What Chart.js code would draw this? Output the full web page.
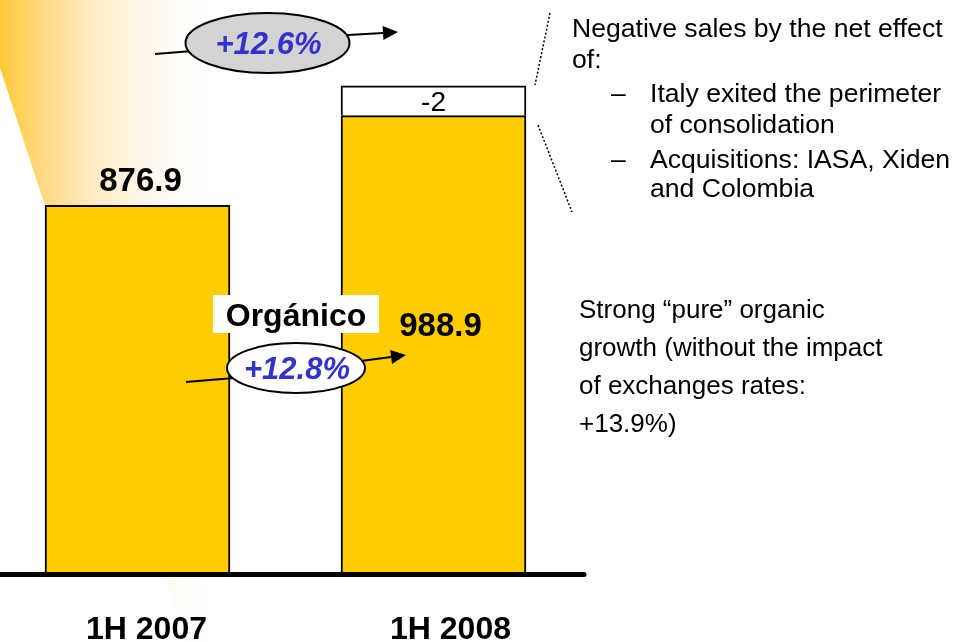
<!DOCTYPE html>
<html><head><meta charset="utf-8">
<script src="https://cdn.jsdelivr.net/npm/chart.js@4"></script>
<style>
html,body{margin:0;padding:0;background:#fff;}
#wrap{position:relative;width:953px;height:642px;overflow:hidden;background:#fff;}
canvas{position:absolute;left:0;top:0;}
.t{position:absolute;font-family:"Liberation Sans",Arial,sans-serif;font-size:26px;line-height:30px;color:#000;white-space:nowrap;}
.p1{font-size:26.6px;}
</style></head><body>
<div id="wrap">
<canvas id="c" width="953" height="642"></canvas>
<div class="t p1" style="left:572px;top:13px">Negative sales by the net effect</div>
<div class="t p1" style="left:572px;top:44px">of:</div>
<div class="t p1" style="left:611px;top:78px">–</div>
<div class="t p1" style="left:650px;top:78px">Italy exited the perimeter</div>
<div class="t p1" style="left:650px;top:109px">of consolidation</div>
<div class="t p1" style="left:611px;top:144px">–</div>
<div class="t p1" style="left:650px;top:144px">Acquisitions: IASA, Xiden</div>
<div class="t p1" style="left:650px;top:173px">and Colombia</div>
<div class="t" style="left:579px;top:294px">Strong “pure” organic</div>
<div class="t" style="left:579px;top:332px">growth (without the impact</div>
<div class="t" style="left:579px;top:370px">of exchanges rates:</div>
<div class="t" style="left:579px;top:408px">+13.9%)</div>
</div>
<script>
// ---- data ----
const categories = ['1H 2007', '1H 2008'];
const organicSales = [876.9, 988.9];
const perimeterBlock = [null, 37];      // drawn block on top of 1H 2008 (labelled -2)
const perimeterLabel = '-2';
const growthTotal = '+12.6%';
const growthOrganic = '+12.8%';
const organicTitle = 'Orgánico';

const FONT = '"Liberation Sans", Arial, sans-serif';

function arrowLine(ctx, x1, y1, x2, y2) {
  const ang = Math.atan2(y2 - y1, x2 - x1), L = 15, W = 7;
  const bx = x2 - L * Math.cos(ang), by = y2 - L * Math.sin(ang);
  ctx.beginPath(); ctx.moveTo(x1, y1); ctx.lineTo(bx, by); ctx.stroke();
  ctx.beginPath();
  ctx.moveTo(x2, y2);
  ctx.lineTo(bx + W * Math.sin(ang), by - W * Math.cos(ang));
  ctx.lineTo(bx - W * Math.sin(ang), by + W * Math.cos(ang));
  ctx.closePath(); ctx.fill();
}

function badge(ctx, cx, cy, rx, ry, fill, text, from, to) {
  ctx.save();
  ctx.strokeStyle = '#000'; ctx.fillStyle = '#000'; ctx.lineWidth = 2;
  ctx.beginPath(); ctx.moveTo(from[0], from[1]); ctx.lineTo(cx - rx + 10, cy + (from[1] - cy) * 0.7); ctx.stroke();
  arrowLine(ctx, cx + rx - 10, cy - ry * 0.25, to[0], to[1]);
  ctx.beginPath(); ctx.ellipse(cx, cy, rx, ry, 0, 0, Math.PI * 2);
  ctx.fillStyle = fill; ctx.fill(); ctx.lineWidth = 2; ctx.stroke();
  ctx.fillStyle = '#3333CC';
  ctx.font = 'italic bold 31px ' + FONT;
  ctx.textAlign = 'center'; ctx.textBaseline = 'alphabetic';
  ctx.fillText(text, cx + 1, cy + 11);
  ctx.restore();
}

const deco = {
  id: 'deco',
  beforeDatasetsDraw(chart) {
    const ctx = chart.ctx;
    ctx.save();
    const g = ctx.createLinearGradient(0, 0, 205, 0);
    g.addColorStop(0, '#FFC936');
    g.addColorStop(0.2, '#FFD981');
    g.addColorStop(0.45, '#FFEBC3');
    g.addColorStop(0.7, '#FFF7EA');
    g.addColorStop(0.85, '#FFFCF6');
    g.addColorStop(1, 'rgba(255,255,255,0)');
    ctx.fillStyle = g;
    ctx.beginPath();
    ctx.moveTo(0, 0); ctx.lineTo(260, 0); ctx.lineTo(260, 642); ctx.lineTo(187, 642); ctx.lineTo(0, 68);
    ctx.closePath(); ctx.fill();
    ctx.restore();
  },
  afterDatasetsDraw(chart) {
    const ctx = chart.ctx;
    const bars = chart.getDatasetMeta(0).data;
    const top = chart.getDatasetMeta(1).data;
    const xs = chart.scales.x;
    const area = chart.chartArea;
    ctx.save();
    // baseline
    ctx.strokeStyle = '#000'; ctx.lineWidth = 5; ctx.lineCap = 'round';
    ctx.beginPath(); ctx.moveTo(-5, area.bottom + 2.5); ctx.lineTo(584, area.bottom + 2.5); ctx.stroke();
    // value labels
    ctx.fillStyle = '#000'; ctx.textAlign = 'center'; ctx.textBaseline = 'alphabetic';
    ctx.font = 'bold 33px ' + FONT;
    ctx.fillText(organicSales[0].toFixed(1), bars[0].x + 3, bars[0].y - 14);
    ctx.fillText(organicSales[1].toFixed(1), bars[1].x + 7, 336);
    // -2 label
    ctx.font = '28px ' + FONT;
    ctx.fillText(perimeterLabel, top[1].x, (top[1].y + top[1].base) / 2 + 10);
    // category labels
    ctx.font = 'bold 32px ' + FONT;
    categories.forEach((c, i) => ctx.fillText(c, xs.getPixelForValue(i) + (i ? 17 : 9), 639));
    // Orgánico box
    ctx.fillStyle = '#fff'; ctx.fillRect(213, 295, 166, 38);
    ctx.fillStyle = '#000'; ctx.font = 'bold 32px ' + FONT;
    ctx.fillText(organicTitle, 296, 326);
    // dotted lines
    ctx.strokeStyle = '#000'; ctx.lineWidth = 1.5; ctx.setLineDash([2, 2]); ctx.lineCap = 'butt';
    ctx.beginPath(); ctx.moveTo(550, 13); ctx.lineTo(535, 85); ctx.stroke();
    ctx.beginPath(); ctx.moveTo(538, 125); ctx.lineTo(572, 212); ctx.stroke();
    ctx.setLineDash([]);
    ctx.restore();
    // badges
    badge(ctx, 267.5, 43, 82, 30, '#D3D3D3', growthTotal, [155, 54], [398, 32]);
    badge(ctx, 296, 368, 69, 25, '#FFFFFF', growthOrganic, [186, 382], [406, 355]);
  }
};

const sideClip = { left: false, right: false, top: false, bottom: 0 };

new Chart(document.getElementById('c'), {
  type: 'bar',
  data: {
    labels: categories,
    datasets: [
      { data: organicSales, backgroundColor: '#FFCC00', borderColor: '#000', borderWidth: 2, barThickness: 185, clip: sideClip },
      { data: perimeterBlock, backgroundColor: '#FFFFFF', borderColor: '#000', borderWidth: 2, barThickness: 185, clip: sideClip }
    ]
  },
  options: {
    responsive: false,
    animation: false,
    devicePixelRatio: 1,
    events: [],
    layout: { padding: { left: 137.5, right: 519.5, top: 0, bottom: 70 } },
    plugins: { legend: { display: false }, tooltip: { enabled: false } },
    scales: {
      x: { display: false, stacked: true, offset: false },
      y: { display: false, stacked: true, min: 420, max: 1133 }
    }
  },
  plugins: [deco]
});
</script>
</body></html>
